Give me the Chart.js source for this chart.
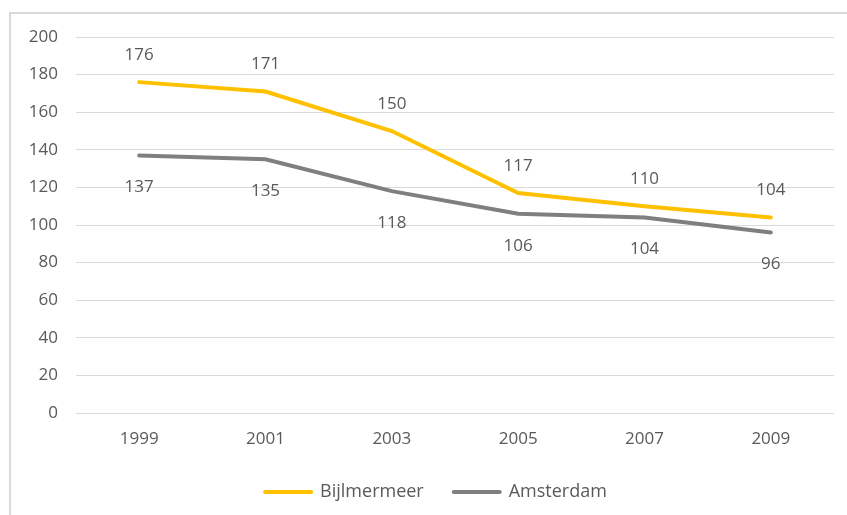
<!DOCTYPE html>
<html>
<head>
<meta charset="utf-8">
<script src="https://cdn.jsdelivr.net/npm/chart.js@4/dist/chart.umd.min.js"></script>
<style>
html,body{margin:0;padding:0;background:#fff;}
#wrap{position:relative;width:847px;height:515px;}
</style>
</head>
<body>
<div id="wrap"><canvas id="c" width="847" height="515"></canvas></div>
<script>
const categories = ['1999','2001','2003','2005','2007','2009'];
const bijlmermeer = [176,171,150,117,110,104];
const amsterdam = [137,135,118,106,104,96];
const yTicks = [0,20,40,60,80,100,120,140,160,180,200];

const FONT = "'Open Sans', 'Liberation Sans', sans-serif";
const TXT = '#595959';
const FS = 17;

const borderPlugin = {
  id: 'border',
  beforeDraw(chart) {
    const ctx = chart.ctx;
    ctx.save();
    ctx.fillStyle = '#fff';
    ctx.fillRect(0,0,chart.width,chart.height);
    ctx.strokeStyle = '#d9d9d9';
    ctx.lineWidth = 2;
    ctx.strokeRect(10, 13, 900, 600);
    ctx.restore();
  },
  afterLayout(chart) {
    if (chart.legend) chart.legend.left = 38;
  }
};

const labelPlugin = {
  id: 'dlabels',
  afterDatasetsDraw(chart) {
    const ctx = chart.ctx;
    ctx.save();
    ctx.font = FS + 'px ' + FONT;
    ctx.fillStyle = TXT;
    ctx.textAlign = 'center';
    ctx.textBaseline = 'middle';
    chart.data.datasets.forEach((ds, i) => {
      const meta = chart.getDatasetMeta(i);
      meta.data.forEach((pt, j) => {
        const off = ds.labelPos === 'above' ? -27 : 32;
        ctx.fillText(String(ds.data[j]), pt.x, pt.y + off);
      });
    });
    ctx.restore();
  }
};

new Chart(document.getElementById('c'), {
  type: 'line',
  data: {
    labels: categories,
    datasets: [
      {label:'Bijlmermeer', data: bijlmermeer, borderColor:'#FFC000', backgroundColor:'#FFC000', borderWidth:4, pointRadius:0, tension:0, labelPos:'above', borderCapStyle:'round'},
      {label:'Amsterdam', data: amsterdam, borderColor:'#7F7F7F', backgroundColor:'#7F7F7F', borderWidth:4, pointRadius:0, tension:0, labelPos:'below', borderCapStyle:'round'}
    ]
  },
  options: {
    responsive:false,
    animation:false,
    layout:{padding:{left:0, right:13, top:37, bottom:4}},
    plugins:{
      legend:{
        position:'bottom',
        labels:{
          usePointStyle:true,
          pointStyle:'line',
          pointStyleWidth:46,
          color:TXT,
          font:{size:18, family:FONT},
          padding:30,
          generateLabels(chart){
            return chart.data.datasets.map((ds,i)=>({
              text: ds.label, fillStyle: ds.borderColor, strokeStyle: ds.borderColor,
              lineWidth: 4, pointStyle:'line', lineCap:'round', datasetIndex:i, fontColor: TXT, hidden:false
            }));
          }
        }
      },
      tooltip:{enabled:false}
    },
    scales:{
      x:{
        offset:true,
        grid:{display:false},
        border:{display:false},
        ticks:{color:TXT, font:{size:FS, family:FONT}, padding:8},
        afterFit(s){ s.height = 40; }
      },
      y:{
        min:0, max:200,
        afterBuildTicks(s){ s.ticks = yTicks.map(v=>({value:v})); },
        grid:{color:'#d9d9d9', lineWidth:1, drawTicks:false},
        border:{display:false},
        ticks:{color:TXT, font:{size:FS, family:FONT}, padding:18},
        afterFit(s){ s.width = 76; }
      }
    }
  },
  plugins:[borderPlugin, labelPlugin]
});
</script>
</body>
</html>
